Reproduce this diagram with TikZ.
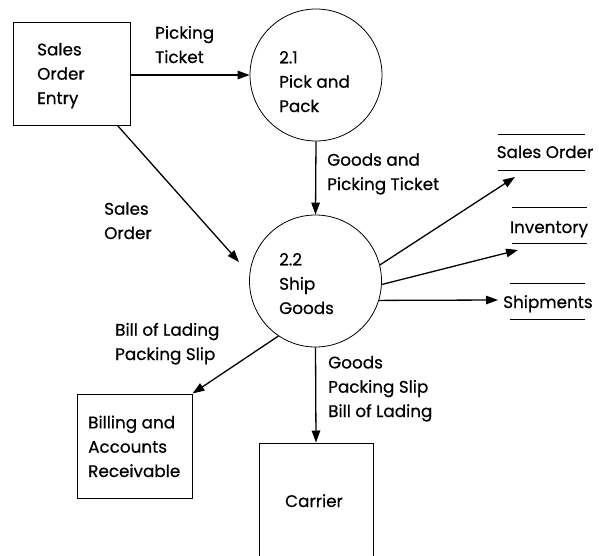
\documentclass[tikz,border=0pt]{standalone}
\usepackage{fontspec}
\setmainfont{Poppins}[FakeBold=0.5]
\usetikzlibrary{arrows.meta}
\begin{document}
\begin{tikzpicture}[x=1pt,y=-1pt,
  every node/.style={font=\fontsize{16.8}{24.3}\selectfont},
  lbl/.style={anchor=base west,align=left,inner sep=0pt},
  entity/.style={draw,line width=1pt,inner sep=0pt},
  process/.style={draw,circle,line width=0.8pt,inner sep=0pt,minimum size=132pt},
  flow/.style={line width=1.3pt,-{Triangle[length=12pt,width=8.5pt]}},
  storeline/.style={line width=0.9pt}]
\clip (0,0) rectangle (599,555);
\fill[white] (0,0) rectangle (599,555);

% external entities
\node[entity,minimum width=117pt,minimum height=103pt] (soe) at (71.5,73.5) {};
\node[lbl] at (37,104) {Sales\\Order\\Entry};
\node[entity,minimum width=115pt,minimum height=104pt] (bill) at (134.5,446) {};
\node[lbl] at (88,477) {Billing and\\Accounts\\Receivable};
\node[entity,minimum width=114pt,minimum height=150pt] (carrier) at (316,518) {};
\node[anchor=base] at (314,507) {Carrier};

% processes
\node[process] (p21) at (316,75) {};
\node[lbl] at (279,112) {2.1\\Pick and\\Pack};
\node[process] (p22) at (315.5,281) {};
\node[lbl] at (279,314) {2.2\\Ship\\Goods};

% data stores
\coordinate (so1) at (498,134); \coordinate (so2) at (585,134);
\coordinate (so3) at (498,170); \coordinate (so4) at (585,170);
\draw[storeline] (so1) -- (so2) (so3) -- (so4);
\node[anchor=base] (so) at (545,158) {Sales Order};
\coordinate (in1) at (512,207); \coordinate (in2) at (587,207);
\coordinate (in3) at (512,243); \coordinate (in4) at (587,243);
\draw[storeline] (in1) -- (in2) (in3) -- (in4);
\node[anchor=base] (inv) at (549,233) {Inventory};
\coordinate (sh1) at (510,283); \coordinate (sh2) at (585,283);
\coordinate (sh3) at (510,319); \coordinate (sh4) at (585,319);
\draw[storeline] (sh1) -- (sh2) (sh3) -- (sh4);
\node[anchor=base west,inner sep=0pt] (ship) at (503,308) {Shipments};

% data flows
\draw[flow] (soe.east |- p21) -- (p21.west);
\node[lbl] at (155,63) {Picking\\Ticket};

\draw[flow] (p21.south) -- (p22.north);
\node[lbl] at (327,190) {Goods and\\Picking Ticket};

\coordinate (sotip) at (239,262);
\draw[flow] ([xshift=-13pt]soe.south east) -- (sotip);
\node[lbl] at (104,239) {Sales\\Order};

\coordinate (soin) at (515,177);
\coordinate (invin) at (518,250);
\coordinate (shin) at (498,300);
\draw[flow] (p22.14) -- (soin);
\draw[flow] (p22.-3) -- (invin);
\draw[flow] (p22.-17) -- (shin);

\draw[flow] (p22.236) -- (bill.north east);
\node[lbl] at (115,360) {Bill of Lading\\Packing Slip};

\draw[flow] (p22.south) -- (carrier.north);
\node[lbl] at (328,417) {Goods\\Packing Slip\\Bill of Lading};
\end{tikzpicture}
\end{document}
